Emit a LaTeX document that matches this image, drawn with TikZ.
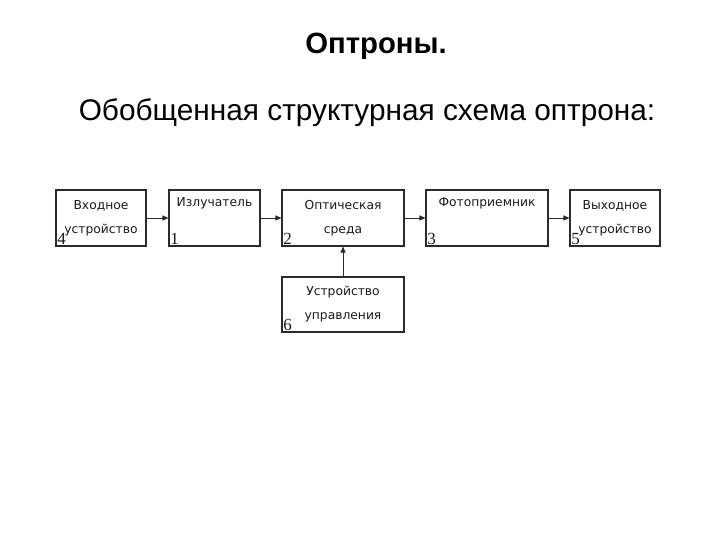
\documentclass[tikz,border=0pt]{standalone}
\usepackage{fontspec}
\setmainfont{Liberation Sans}
\newfontfamily\boxfont{DejaVu Sans}
\newfontfamily\numfont{Liberation Serif}
\usepackage{xcolor}
\usepackage{tikz}
\usetikzlibrary{arrows.meta}
\definecolor{ink}{HTML}{1A1A1A}
\definecolor{edge}{HTML}{2A2A2A}
\tikzset{
  blk/.style={draw=edge, line width=1.1pt, rectangle, inner sep=0pt,
    minimum height=56pt, align=center, text=ink,
    font=\boxfont\fontsize{12.3}{24}\selectfont},
  num/.style={inner sep=1.8pt, text=ink, font=\numfont\fontsize{17}{17}\selectfont},
  link/.style={-{Triangle[length=6pt,width=5pt]}, line width=0.9pt, draw=edge},
  ttl/.style={font=\bfseries\fontsize{29.3}{32}\selectfont, text=black},
  sub/.style={font=\fontsize{29.8}{32}\selectfont, text=black}
}
\begin{document}
\begin{tikzpicture}[x=1pt, y=-1pt]
  \useasboundingbox[fill=white] (0,0) rectangle (720,540);

  \node[ttl] (head) at (376,46) {Оптроны.};
  \node[sub] (subhead) at (367,113) {Обобщенная структурная схема оптрона:};

  % blocks of the chain
  \node[blk, minimum width=90pt]  (inp)  at (101,218)   {Входное\\устройство};
  \node[blk, minimum width=91pt]  (emit) at (214.5,218) {Излучатель\\\strut};
  \node[blk, minimum width=122pt] (med)  at (343,218)   {Оптическая\\среда};
  \node[blk, minimum width=122pt] (det)  at (487,218)   {Фотоприемник\\\strut};
  \node[blk, minimum width=90pt]  (out)  at (615,218)   {Выходное\\устройство};
  \node[blk, minimum width=122pt, minimum height=55pt] (ctrl) at (343,304.5) {Устройство\\управления};

  % block numbers
  \node[num, anchor=south west] (n4) at (inp.south west)  {4};
  \node[num, anchor=south west] (n1) at (emit.south west) {1};
  \node[num, anchor=south west] (n2) at (med.south west)  {2};
  \node[num, anchor=south west] (n3) at (det.south west)  {3};
  \node[num, anchor=south west] (n5) at (out.south west)  {5};
  \node[num, anchor=south west] (n6) at (ctrl.south west) {6};

  \draw[link] (inp)  -- (emit);
  \draw[link] (emit) -- (med);
  \draw[link] (med)  -- (det);
  \draw[link] (det)  -- (out);
  \draw[link] (ctrl) -- (med);
\end{tikzpicture}
\end{document}
